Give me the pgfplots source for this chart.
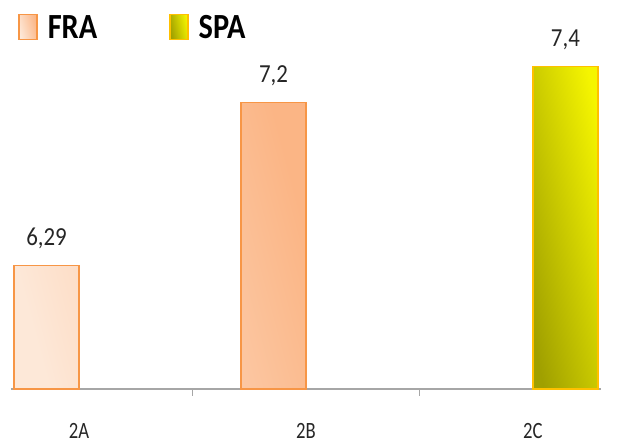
\documentclass[border=0pt]{standalone}
\usepackage{fontspec}
\setmainfont{Carlito}
\newfontfamily\legfont[FakeStretch=0.86]{Carlito}
\newfontfamily\labfont[FakeStretch=0.88]{Carlito}
\newfontfamily\tickfont[FakeStretch=0.8]{Carlito}
\usepackage{pgfplots}
\pgfplotsset{compat=1.18}
\definecolor{fraA}{HTML}{FDE8D8}
\definecolor{fraB}{HTML}{FBB585}
\definecolor{fraE}{HTML}{F79646}
\definecolor{spaA}{HTML}{A0A000}
\definecolor{spaB}{HTML}{F5F500}
\definecolor{spaE}{HTML}{FFC000}
\definecolor{axg}{HTML}{A6A6A6}
\begin{document}
\begin{tikzpicture}
\useasboundingbox (-8.25pt,-42.75pt) rectangle (456.75pt,291.75pt);
\begin{axis}[
  scale only axis, width=442.5pt, height=282pt,
  xmin=-0.3, xmax=2.3, ymin=5.6, ymax=7.7,
  y coord trafo/.code={\pgfmathparse{#1-5.6}},
  y coord inv trafo/.code={\pgfmathparse{#1+5.6}},
  ybar, bar width=48.75pt,
  axis x line*=bottom, axis y line=none,
  x axis line style={draw=axg, line width=1.1pt},
  xtick={0,1,2}, xticklabels={2A,2B,2C}, major tick length=0pt,
  extra x ticks={0.5,1.5}, extra x tick labels={},
  extra x tick style={major tick length=5pt, tick align=outside, tick style={draw=axg, line width=0.8pt}},
  xticklabel style={font=\tickfont\fontsize{17.5}{20}\selectfont, text=black!85, anchor=base, yshift=-36.75pt},
  point meta=rawy,
  nodes near coords={\pgfmathprintnumber[use comma]{\pgfplotspointmeta}},
  nodes near coords style={font=\labfont\fontsize{19.5}{22}\selectfont, text=black!85, anchor=base, yshift=15pt},
  /pgf/number format/assume math mode=true,
  legend columns=2,
  legend style={at={(0.0119,0.962)}, anchor=west, draw=none, fill=none, inner sep=0pt,
    font=\legfont\bfseries\fontsize{26.5}{30}\selectfont,
    nodes={inner sep=0pt}, column sep=7.5pt,
    /tikz/every even column/.append style={column sep=54pt}},
  legend cell align=left,
  legend image code/.code={\draw[#1] (0pt,-8.5pt) rectangle (13.5pt,10.25pt);},
]
\addplot[bar shift=-24.375pt, draw=fraE, line width=1.1pt, top color=fraB, bottom color=fraA, shading angle=-75] coordinates {(0,6.29) (1,7.2)};
\addplot[bar shift=24.375pt, draw=spaE, line width=1.1pt, top color=spaB, bottom color=spaA, shading angle=-78] coordinates {(2,7.4)};
\legend{FRA,SPA}
\end{axis}
\end{tikzpicture}
\end{document}
